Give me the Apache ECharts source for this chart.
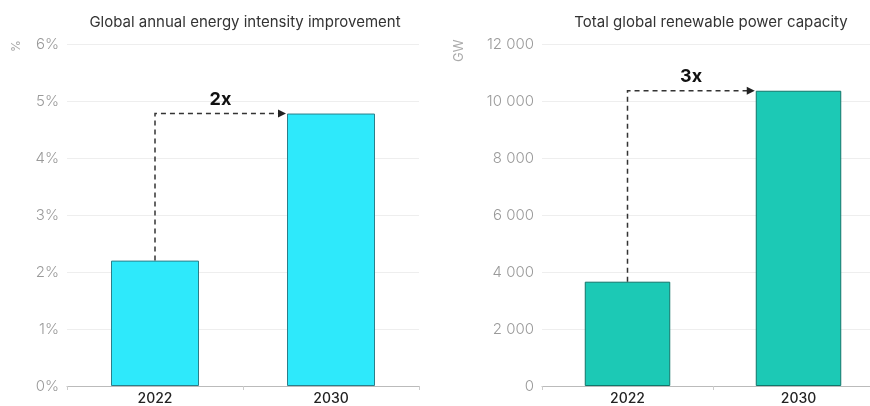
<!DOCTYPE html>
<html>
<head>
<meta charset="utf-8">
<script src="https://cdn.jsdelivr.net/npm/echarts@6/dist/echarts.min.js"></script>
<style>
  html, body {margin: 0; padding: 0; background: #fff; overflow: hidden;}
  /* the right panel runs a little past the window edge in the original */
  #chart {width: 884px; height: 406px;}
</style>
</head>
<body>
<div id="chart"></div>
<script>
const years = ['2022', '2030'];
const intensity = [2.2, 4.78];          // % per year
const renewables = [3660, 10360];       // GW
const intensityTicks = [0, 1, 2, 3, 4, 5, 6];
const renewableTicks = [0, 2000, 4000, 6000, 8000, 10000, 12000];
const multipliers = ['2x', '3x'];

const font = 'Inter, "Noto Sans", sans-serif';
const thousands = v => String(v).replace(/\B(?=(\d{3})+(?!\d))/g, ' ');

// dashed elbow arrow from first bar top to second bar's left edge
const arrowSeries = (idx, values, label) => ({
  type: 'custom',
  xAxisIndex: idx,
  yAxisIndex: idx,
  silent: true,
  z: 5,
  data: [[0, values[0], values[1]]],
  renderItem(params, api) {
    const a = api.coord([0, api.value(1)]);
    const b = api.coord([1, api.value(2)]);
    const band = api.size([1, 0])[0];
    const endX = b[0] - band * 0.25 - 1;
    const y = b[1];
    return {
      type: 'group',
      children: [
        {
          type: 'polyline',
          shape: {points: [[a[0], a[1]], [a[0], y], [endX - 7, y]]},
          style: {stroke: '#333', lineWidth: 1.5, lineDash: [5, 4], fill: null}
        },
        {
          type: 'polygon',
          shape: {points: [[endX - 8, y - 4], [endX, y], [endX - 8, y + 4]]},
          style: {fill: '#222'}
        },
        {
          type: 'text',
          style: {
            text: label, x: (a[0] + endX) / 2, y: y - 14,
            align: 'center', verticalAlign: 'middle',
            font: 'bold 18px ' + font, fill: '#111'
          }
        }
      ]
    };
  }
});

const chart = echarts.init(document.getElementById('chart'));
chart.setOption({
  animation: false,
  textStyle: {fontFamily: font},
  title: [
    {
      text: 'Global annual energy intensity improvement',
      left: 240, top: 10, textAlign: 'center',
      textStyle: {fontSize: 15, fontWeight: 'normal', color: '#333', fontFamily: font}
    },
    {
      text: 'Total global renewable power capacity',
      left: 706, top: 10, textAlign: 'center',
      textStyle: {fontSize: 15, fontWeight: 'normal', color: '#333', fontFamily: font}
    }
  ],
  grid: [
    {left: 67, top: 44, width: 352, bottom: 20},
    {left: 542, top: 44, width: 342, bottom: 20}
  ],
  xAxis: [0, 1].map(i => ({
    type: 'category',
    gridIndex: i,
    data: years,
    axisLine: {lineStyle: {color: '#bbb'}},
    axisTick: {show: true, length: 4, lineStyle: {color: '#ccc'}},
    axisLabel: {color: '#222', fontSize: 14, fontWeight: 500, margin: 6, fontFamily: font}
  })),
  yAxis: [
    {
      type: 'value', gridIndex: 0,
      min: intensityTicks[0], max: intensityTicks[intensityTicks.length - 1], interval: 1,
      axisLine: {show: false}, axisTick: {show: false},
      splitLine: {lineStyle: {color: '#eee'}},
      axisLabel: {formatter: '{value}%', color: '#9a9a9a', fontSize: 15, fontWeight: 300, margin: 8, fontFamily: font}
    },
    {
      type: 'value', gridIndex: 1,
      min: renewableTicks[0], max: renewableTicks[renewableTicks.length - 1], interval: 2000,
      axisLine: {show: false}, axisTick: {show: false},
      splitLine: {lineStyle: {color: '#eee'}},
      axisLabel: {formatter: v => thousands(v), color: '#9a9a9a', fontSize: 15, fontWeight: 300, margin: 8, fontFamily: font}
    }
  ],
  graphic: [
    {type: 'text', x: 10, y: 52, rotation: Math.PI / 2,
     style: {text: '%', font: '12px ' + font, fill: '#aaa'}},
    {type: 'text', x: 453, y: 62, rotation: Math.PI / 2,
     style: {text: 'GW', font: '13px ' + font, fill: '#aaa'}}
  ],
  series: [
    {
      type: 'bar', xAxisIndex: 0, yAxisIndex: 0,
      data: intensity, barWidth: '50%',
      itemStyle: {color: '#2ee9fb', borderColor: '#2b7f8a', borderWidth: 1}
    },
    {
      type: 'bar', xAxisIndex: 1, yAxisIndex: 1,
      data: renewables, barWidth: '50%',
      itemStyle: {color: '#1cc9b5', borderColor: '#11766a', borderWidth: 1}
    },
    arrowSeries(0, intensity, multipliers[0]),
    arrowSeries(1, renewables, multipliers[1])
  ]
});
</script>
</body>
</html>
